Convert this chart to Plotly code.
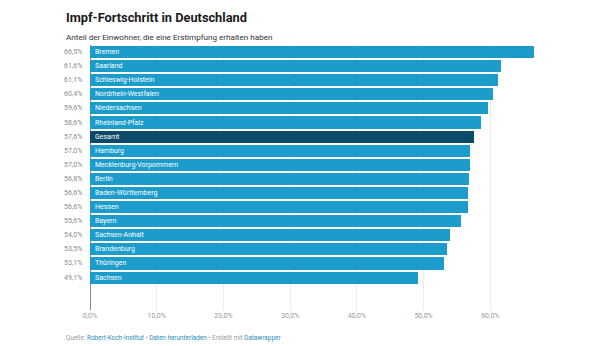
import plotly.graph_objects as go

# Erstimpfungsquote je Bundesland (in Prozent)
laender = ["Bremen", "Saarland", "Schleswig-Holstein", "Nordrhein-Westfalen",
           "Niedersachsen", "Rheinland-Pfalz", "Gesamt", "Hamburg",
           "Mecklenburg-Vorpommern", "Berlin", "Baden-Württemberg", "Hessen",
           "Bayern", "Sachsen-Anhalt", "Brandenburg", "Thüringen", "Sachsen"]
quote = [66.5, 61.6, 61.1, 60.4, 59.6, 58.6, 57.6, 57.0, 57.0, 56.8, 56.6,
         56.6, 55.6, 54.0, 53.5, 53.1, 49.1]
x_ticks = [0, 10, 20, 30, 40, 50, 60]

BLAU = "#1b9ccb"
DUNKEL = "#0b4a68"
FONT = "Roboto"

W, H = 600, 346
ML, MR, MT, MB = 90, 43, 45, 36


def de(v):
    return f"{v:.1f}".replace(".", ",") + "%"


pos = list(range(len(laender)))
farben = [DUNKEL if n == "Gesamt" else BLAU for n in laender]

fig = go.Figure(go.Bar(
    x=quote, y=pos, orientation="h", width=0.86,
    marker=dict(color=farben, line=dict(width=0)),
    hoverinfo="skip",
))

# Wertbeschriftung links, Ländername in den Balken
for p, n, v in zip(pos, laender, quote):
    fig.add_annotation(x=0, y=p, xref="x", yref="y", text=de(v), showarrow=False,
                       xanchor="right", xshift=-6,
                       font=dict(family=FONT, size=7, color="#8a8a8a"))
    fig.add_annotation(x=0, y=p, xref="x", yref="y", text=n, showarrow=False,
                       xanchor="left", xshift=3,
                       font=dict(family=FONT, size=7, color="white"))

fig.update_layout(
    width=W, height=H,
    margin=dict(l=ML, r=MR, t=MT, b=MB),
    paper_bgcolor="white", plot_bgcolor="white",
    showlegend=False,
    bargap=0,
    xaxis=dict(range=[0, 70], tickvals=x_ticks,
               ticktext=[de(t) for t in x_ticks],
               showgrid=True, gridcolor="#ececec", gridwidth=1,
               zeroline=True, zerolinecolor="#888888", zerolinewidth=1,
               tickfont=dict(family=FONT, size=7, color="#9a9a9a"),
               ticks="", fixedrange=True),
    yaxis=dict(range=[18.3, -0.5], showticklabels=False, showgrid=False,
               zeroline=False, fixedrange=True),
)

plot_w = W - ML - MR
plot_h = H - MT - MB


def to_paper(px_x, px_y):
    return (px_x - ML) / plot_w, (H - MB - px_y) / plot_h


# Titel, Untertitel und Fußzeile
for (px_x, px_y), text, size, color in [
    ((64, 17), "<b>Impf-Fortschritt in Deutschland</b>", 12.8, "#1a1a1a"),
    ((64, 37), "Anteil der Einwohner, die eine Erstimpfung erhalten haben", 8.1, "#333333"),
    ((64, 338), "Quelle: <span style='color:#2a8fb5'>Robert-Koch-Institut</span> • "
                "<span style='color:#2a8fb5'>Daten herunterladen</span> • Erstellt mit "
                "<span style='color:#2a8fb5'>Datawrapper</span>", 6.4, "#9a9a9a"),
]:
    px_, py_ = to_paper(px_x, px_y)
    fig.add_annotation(x=px_, y=py_, xref="paper", yref="paper", text=text,
                       showarrow=False, xanchor="left", yanchor="middle",
                       font=dict(family=FONT, size=size, color=color))

fig.write_html("out.html", config={"displayModeBar": False})
